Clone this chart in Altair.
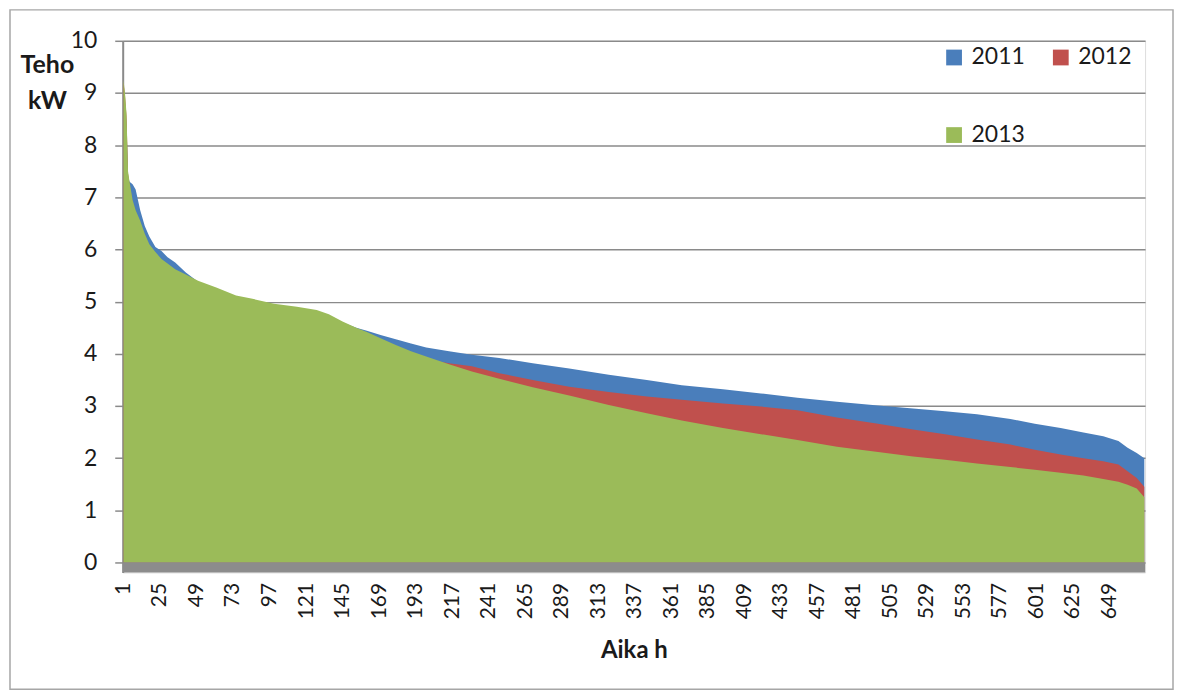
import altair as alt
import pandas as pd

# Duration curves: hour rank (x) vs power kW (y)
hours = [1, 2, 3, 4, 5, 7, 9, 12, 15, 18, 22, 26, 30, 35, 42, 50, 62, 75, 85, 100,
         115, 128, 136, 145, 154, 161, 170, 180, 190, 200, 215, 230, 248, 270, 294,
         320, 345, 368, 395, 420, 444, 470, 497, 520, 541, 562, 584, 600, 617, 632,
         645, 655, 661, 667, 672]

v2011 = [9.0, 8.8, 8.4, 7.4, 7.3, 7.25, 7.15, 6.75, 6.45, 6.25,
         6.05, 5.97, 5.85, 5.75, 5.56, 5.38, 5.25, 5.1, 5.03, 4.94,
         4.88, 4.82, 4.74, 4.6, 4.5, 4.44, 4.36, 4.28, 4.2, 4.12,
         4.05, 3.98, 3.92, 3.82, 3.72, 3.6, 3.5, 3.4, 3.32, 3.24,
         3.16, 3.08, 3.01, 2.95, 2.9, 2.84, 2.75, 2.66, 2.58, 2.49,
         2.42, 2.33, 2.2, 2.1, 2.0]

v2012 = [9.2, 8.95, 8.55, 7.45, 7.25, 6.9, 6.7, 6.5, 6.25, 6.05,
         5.9, 5.77, 5.68, 5.57, 5.47, 5.35, 5.22, 5.07, 5.01, 4.91,
         4.85, 4.79, 4.71, 4.57, 4.45, 4.37, 4.25, 4.12, 4.0, 3.9,
         3.82, 3.76, 3.63, 3.5, 3.37, 3.27, 3.18, 3.12, 3.05, 2.99,
         2.92, 2.78, 2.66, 2.55, 2.46, 2.36, 2.26, 2.16, 2.07, 2.0,
         1.94, 1.88, 1.75, 1.62, 1.45]

v2013 = [9.25, 9.0, 8.6, 7.5, 7.3, 6.95, 6.75, 6.55, 6.3, 6.1,
         5.95, 5.82, 5.73, 5.62, 5.52, 5.4, 5.27, 5.12, 5.06, 4.96,
         4.9, 4.84, 4.76, 4.62, 4.5, 4.42, 4.3, 4.17, 4.05, 3.95,
         3.8, 3.66, 3.52, 3.36, 3.2, 3.02, 2.86, 2.72, 2.58, 2.46,
         2.35, 2.22, 2.12, 2.03, 1.97, 1.9, 1.83, 1.78, 1.72, 1.67,
         1.6, 1.55, 1.49, 1.42, 1.25]

years = ["2011", "2012", "2013"]
colors = ["#4A7EBB", "#C0504D", "#9BBB59"]
x_ticks = list(range(1, 673, 24))
y_ticks = list(range(0, 11))

rows = []
for yr, vals in zip(years, [v2011, v2012, v2013]):
    for h, v in zip(hours, vals):
        rows.append({"Aika": h, "Teho": v, "Vuosi": yr})
df = pd.DataFrame(rows)

W, H = 1025, 533
FONT = "Lato"
TXT = "#1A1A1A"

x_enc = alt.X("Aika:Q",
              scale=alt.Scale(domain=[0.5, 672.5], nice=False, zero=False),
              axis=alt.Axis(values=x_ticks, labelAngle=-90, ticks=False, grid=False,
                            domain=False, labelPadding=10, labelFontSize=21,
                            labelFont=FONT, labelColor=TXT, format="d",
                            labelOverlap=False, labelFlush=False,
                            title="Aika h", titleFont=FONT, titleFontSize=24,
                            titleFontWeight="bold", titleColor=TXT,
                            titlePadding=20))
y_scale = alt.Scale(domain=[-0.19, 10], nice=False, zero=False)
y_enc = alt.Y("Teho:Q", scale=y_scale,
              axis=alt.Axis(values=y_ticks, grid=True, gridColor="#8A8A8A",
                            gridWidth=1.5, tickColor="#8A8A8A", tickSize=8,
                            tickWidth=1.5, domainColor="#8A8A8A", domainWidth=2,
                            labelFontSize=23, labelFont=FONT, labelColor=TXT,
                            labelPadding=18,
                            title=["Teho", "kW"], titleAngle=0, titleFont=FONT,
                            titleFontSize=25, titleFontWeight="bold",
                            titleColor=TXT, titleAlign="center",
                            titleBaseline="alphabetic", titleX=-76, titleY=32,
                            titleLineHeight=36))

color_enc = alt.Color("Vuosi:N",
                      scale=alt.Scale(domain=years, range=colors),
                      legend=alt.Legend(orient="none", legendX=822, legendY=5,
                                        direction="horizontal",
                                        columns=2, title=None, symbolType="square",
                                        symbolSize=250, symbolStrokeWidth=0,
                                        symbolOpacity=1,
                                        labelFontSize=23, labelFont=FONT,
                                        labelColor=TXT, labelOffset=6,
                                        rowPadding=54, columnPadding=24))

layers = []
for yr in years:
    layers.append(
        alt.Chart(df).transform_filter(alt.datum.Vuosi == yr)
        .mark_area(opacity=1, interpolate="linear")
        .encode(x=x_enc, y=y_enc, color=color_enc)
    )

floor = alt.Chart(pd.DataFrame({"a": [0]})).mark_rect(color="#8C8C8C").encode(
    x=alt.value(0), x2=alt.value(W),
    y=alt.Y(datum=0, scale=y_scale), y2=alt.Y2(datum=-0.19))

border = alt.Chart(pd.DataFrame({"a": [0]})).mark_rect(
    fill=None, stroke="#A6A6A6", strokeWidth=1.5).encode(
    x=alt.value(-113), x2=alt.value(1053), y=alt.value(-31), y2=alt.value(650))

chart = alt.layer(border, *layers, floor).properties(
    width=W, height=H,
    autosize=alt.AutoSizeParams(type="none"),
    padding={"left": 115, "top": 32, "right": 30, "bottom": 120},
).configure_view(stroke=None).configure(background="white")

chart.save("out.html", embed_options={"renderer": "svg", "actions": False})
